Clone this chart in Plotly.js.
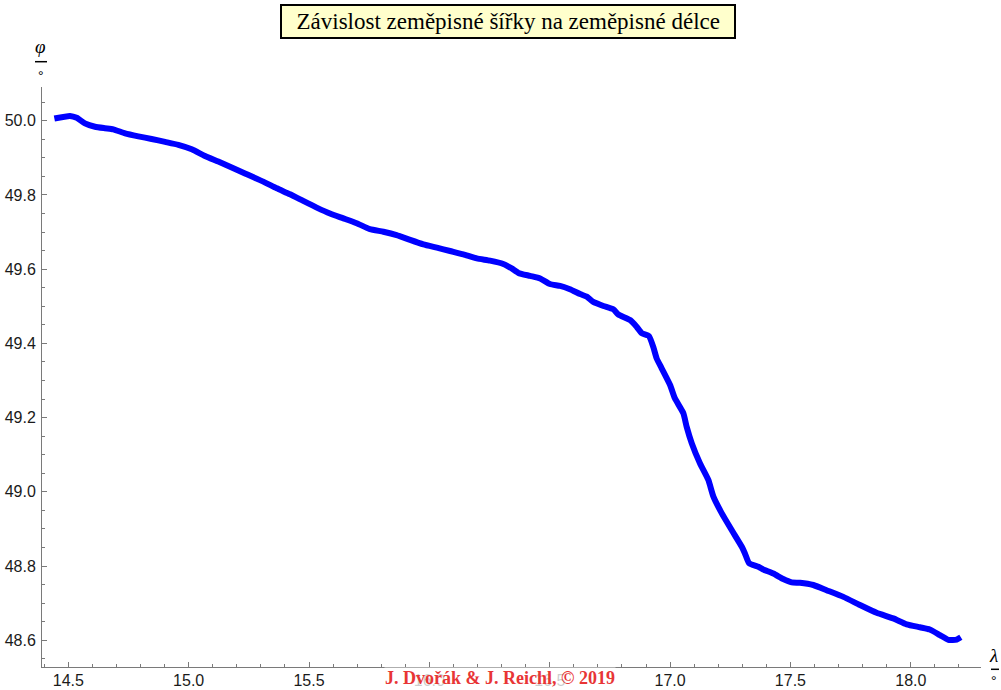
<!DOCTYPE html>
<html>
<head>
<meta charset="utf-8">
<script src="https://cdn.plot.ly/plotly-3.0.1.min.js"></script>
<style>
html,body{margin:0;padding:0;background:#fff;}
#chart{width:1001px;height:690px;}
</style>
</head>
<body>
<div id="chart"></div>
<script>
// Zeměpisná délka (λ, °)
const longitude = [
  14.442, 14.507, 14.535, 14.569, 14.611, 14.652, 14.687, 14.736, 14.791, 14.846,
  14.902, 14.957, 15.013, 15.068, 15.123, 15.179, 15.234, 15.310, 15.366, 15.421,
  15.476, 15.532, 15.587, 15.643, 15.698, 15.753, 15.809, 15.864, 15.920, 15.975,
  16.031, 16.086, 16.141, 16.197, 16.252, 16.307, 16.342, 16.370, 16.418, 16.460,
  16.501, 16.543, 16.584, 16.626, 16.654, 16.681, 16.723, 16.764, 16.785, 16.834,
  16.861, 16.882, 16.912, 16.930, 16.944, 16.965, 17.000, 17.020, 17.055, 17.069,
  17.090, 17.124, 17.159, 17.180, 17.215, 17.256, 17.298, 17.311, 17.328, 17.367,
  17.387, 17.429, 17.470, 17.505, 17.540, 17.595, 17.650, 17.720, 17.789, 17.858,
  17.927, 17.983, 18.038, 18.079, 18.121, 18.156, 18.191, 18.208
];
// Zeměpisná šířka (φ, °)
const latitude = [
  50.006, 50.013, 50.008, 49.993, 49.984, 49.980, 49.977, 49.966, 49.958, 49.951,
  49.943, 49.935, 49.923, 49.905, 49.890, 49.874, 49.858, 49.836, 49.818, 49.802,
  49.784, 49.766, 49.750, 49.737, 49.724, 49.708, 49.701, 49.692, 49.679, 49.667,
  49.658, 49.649, 49.640, 49.629, 49.623, 49.614, 49.602, 49.590, 49.582, 49.575,
  49.560, 49.555, 49.546, 49.533, 49.526, 49.512, 49.501, 49.492, 49.478, 49.463,
  49.445, 49.428, 49.420, 49.391, 49.360, 49.333, 49.288, 49.252, 49.212, 49.175,
  49.131, 49.077, 49.032, 48.987, 48.942, 48.897, 48.852, 48.834, 48.808, 48.798,
  48.791, 48.780, 48.765, 48.756, 48.755, 48.749, 48.735, 48.717, 48.695, 48.674,
  48.659, 48.643, 48.635, 48.629, 48.614, 48.601, 48.602, 48.608
];

const chartTitle = "Závislost zeměpisné šířky na zeměpisné délce";
const credit = "J. Dvořák &amp; J. Reichl, © 2019";

const axisGray = "#7a7a7a";
const tickFont = {family: "Liberation Sans, Arial, sans-serif", size: 16, color: "#1a1a1a"};

const trace = {
  x: longitude,
  y: latitude,
  type: "scatter",
  mode: "lines",
  line: {color: "#0000ff", width: 6, shape: "spline", smoothing: 0.5},
  hoverinfo: "skip"
};

const layout = {
  width: 1001,
  height: 690,
  margin: {l: 42, r: 20, t: 87, b: 23, pad: 0},
  paper_bgcolor: "#ffffff",
  plot_bgcolor: "#ffffff",
  showlegend: false,
  xaxis: {
    range: [14.3907, 18.2917],
    tick0: 14.5, dtick: 0.5, tickformat: ".1f",
    ticks: "inside", ticklen: 5, tickwidth: 1, tickcolor: axisGray,
    minor: {dtick: 0.1, tick0: 14.5, ticks: "inside", ticklen: 3, tickwidth: 1, tickcolor: axisGray},
    showline: true, linecolor: axisGray, linewidth: 1,
    showgrid: false, zeroline: false,
    tickfont: tickFont,
    ticklabelstandoff: -1
  },
  yaxis: {
    range: [48.528, 50.091],
    tick0: 48.6, dtick: 0.2, tickformat: ".1f",
    ticks: "inside", ticklen: 5, tickwidth: 1, tickcolor: axisGray,
    minor: {dtick: 0.05, tick0: 48.6, ticks: "inside", ticklen: 3, tickwidth: 1, tickcolor: axisGray},
    showline: true, linecolor: axisGray, linewidth: 1,
    showgrid: false, zeroline: false,
    tickfont: tickFont,
    ticklabelstandoff: 2
  },
  shapes: [
    {type: "line", xref: "paper", yref: "paper",
     x0: (35 - 42) / 939, x1: (47 - 42) / 939,
     y0: 1 + (87 - 61.7) / 580, y1: 1 + (87 - 61.7) / 580,
     line: {color: "#000", width: 1.5}},
    {type: "line", xref: "paper", yref: "paper",
     x0: (991 - 42) / 939, x1: (999 - 42) / 939,
     y0: -(669.3 - 667) / 580, y1: -(669.3 - 667) / 580,
     line: {color: "#000", width: 1.5}}
  ],
  annotations: [
    {text: "&nbsp;&nbsp;" + chartTitle + "&nbsp;&nbsp;", xref: "paper", yref: "paper",
     x: (507.5 - 42) / 939, y: 1 + (87 - 21.5) / 580,
     xanchor: "center", yanchor: "middle", showarrow: false,
     font: {family: "Liberation Serif, Times New Roman, serif", size: 23, color: "#000"},
     bgcolor: "#ffffcc", bordercolor: "#000", borderwidth: 2, borderpad: 3},
    {text: "<i>φ</i>", xref: "paper", yref: "paper",
     x: (40.7 - 42) / 939, y: 1 + (87 - 46.7) / 580,
     xanchor: "center", yanchor: "middle", showarrow: false,
     font: {family: "Liberation Serif, Times New Roman, serif", size: 19, color: "#000"}},
    {text: "°", xref: "paper", yref: "paper",
     x: (40.7 - 42) / 939, y: 1 + (87 - 76) / 580,
     xanchor: "center", yanchor: "middle", showarrow: false,
     font: {family: "Liberation Sans, Arial, sans-serif", size: 14, color: "#000"}},
    {text: "<i>λ</i>", xref: "paper", yref: "paper",
     x: (993 - 42) / 939, y: -(655 - 667) / 580,
     xanchor: "center", yanchor: "middle", showarrow: false,
     font: {family: "Liberation Serif, Times New Roman, serif", size: 19, color: "#000"}},
    {text: "°", xref: "paper", yref: "paper",
     x: (993.5 - 42) / 939, y: -(680.5 - 667) / 580,
     xanchor: "center", yanchor: "middle", showarrow: false,
     font: {family: "Liberation Sans, Arial, sans-serif", size: 14, color: "#000"}},
    {text: "<b>" + credit + "</b>", xref: "paper", yref: "paper",
     x: (499.5 - 42) / 939, y: -(678 - 667) / 580,
     xanchor: "center", yanchor: "middle", showarrow: false,
     font: {family: "Liberation Serif, Times New Roman, serif", size: 18, color: "#e83535"},
     bgcolor: "rgba(255,255,255,0.78)", borderpad: 0}
  ]
};

Plotly.newPlot("chart", [trace], layout, {staticPlot: true, displayModeBar: false});
</script>
</body>
</html>
